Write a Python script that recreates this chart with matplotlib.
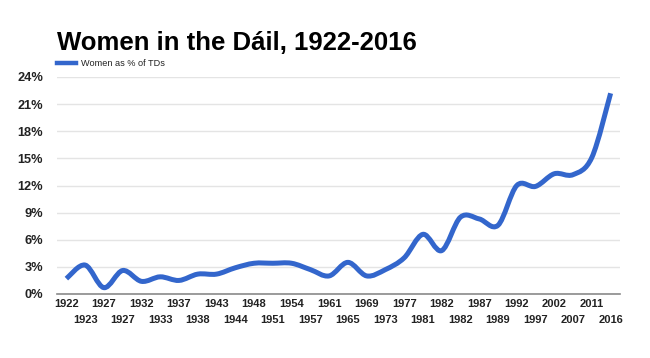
import numpy as np
import matplotlib
matplotlib.use('Agg')
from matplotlib import pyplot as plt
from matplotlib.path import Path
from matplotlib.patches import PathPatch
from matplotlib.lines import Line2D
from matplotlib.ticker import FuncFormatter

plt.rcParams['font.family'] = ['Liberation Sans', 'DejaVu Sans']

# Dail elections (category axis) and share of women TDs (%)
elections = ['1922', '1923', '1927', '1927', '1932', '1933', '1937', '1938',
             '1943', '1944', '1948', '1951', '1954', '1957', '1961', '1965',
             '1969', '1973', '1977', '1981', '1982', '1982', '1987', '1989',
             '1992', '1997', '2002', '2007', '2011', '2016']
women_pct = [1.7, 3.2, 0.7, 2.6, 1.4, 1.9, 1.5, 2.2,
             2.2, 2.9, 3.4, 3.4, 3.4, 2.7, 2.0, 3.5,
             2.0, 2.7, 4.0, 6.6, 4.8, 8.5, 8.3, 7.6,
             12.0, 11.9, 13.3, 13.2, 15.1, 22.2]
y_ticks = [0, 3, 6, 9, 12, 15, 18, 21, 24]

BLUE = '#3366cc'


def smooth_path(xs, ys, tension=0.5):
    """
    Build a bezier path through the points (catmull-rom style control points).
    """
    xs = np.asarray(xs, dtype=float)
    ys = np.asarray(ys, dtype=float)
    verts = [(xs[0], ys[0])]
    codes = [Path.MOVETO]
    n = len(xs)
    for i in range(n - 1):
        x0, y0 = xs[max(i - 1, 0)], ys[max(i - 1, 0)]
        x1, y1 = xs[i], ys[i]
        x2, y2 = xs[i + 1], ys[i + 1]
        x3, y3 = xs[min(i + 2, n - 1)], ys[min(i + 2, n - 1)]
        c1 = (x1 + (x2 - x0) * tension / 3, y1 + (y2 - y0) * tension / 3)
        c2 = (x2 - (x3 - x1) * tension / 3, y2 - (y3 - y1) * tension / 3)
        verts += [c1, c2, (x2, y2)]
        codes += [Path.CURVE4] * 3
    return Path(verts, codes)


fig = plt.figure(figsize=(6.5, 3.58), dpi=100)
ax = fig.add_axes([57 / 650, 1 - 294 / 358, 563 / 650, 217 / 358])

x = np.arange(len(elections))
patch = PathPatch(smooth_path(x, women_pct, tension=0.5), facecolor='none',
                  edgecolor=BLUE, linewidth=3.6, capstyle='butt',
                  joinstyle='round', zorder=3)
ax.add_patch(patch)

ax.set_xlim(-0.5, len(elections) - 0.5)
ax.set_ylim(0, 24)
ax.set_yticks(y_ticks)
ax.yaxis.set_major_formatter(FuncFormatter(lambda v, p: f'{int(v)}%'))
ax.grid(axis='y', color='#e4e4e4', linewidth=1)
ax.set_axisbelow(True)
for s in ['top', 'right', 'left']:
    ax.spines[s].set_visible(False)
ax.spines['bottom'].set_color('#8a8a8a')
ax.spines['bottom'].set_linewidth(1.2)
ax.tick_params(axis='y', length=0, pad=10, labelsize=9.2, labelcolor='#222222')
for lab in ax.get_yticklabels():
    lab.set_fontweight('bold')

ax.set_xticks(x)
ax.set_xticklabels([])
ax.tick_params(axis='x', length=0)
for i, yr in enumerate(elections):
    off = -0.045 if i % 2 == 0 else -0.12
    ax.text(i, off, yr, transform=ax.get_xaxis_transform(), ha='center',
            va='center', fontsize=8, fontweight='bold', color='#222222')

fig.text(57 / 650, 1 - 50 / 358, 'Women in the Dáil, 1922-2016', fontsize=18.5,
         fontweight='bold', color='black', ha='left', va='baseline')

fig.add_artist(Line2D([57 / 650, 76 / 650], [1 - 63 / 358, 1 - 63 / 358],
                      color=BLUE, linewidth=3.2))
fig.text(81 / 650, 1 - 63 / 358, 'Women as % of TDs', fontsize=6.6,
         color='#222222', ha='left', va='center')

fig.savefig('out.png', dpi=100, facecolor='white')
